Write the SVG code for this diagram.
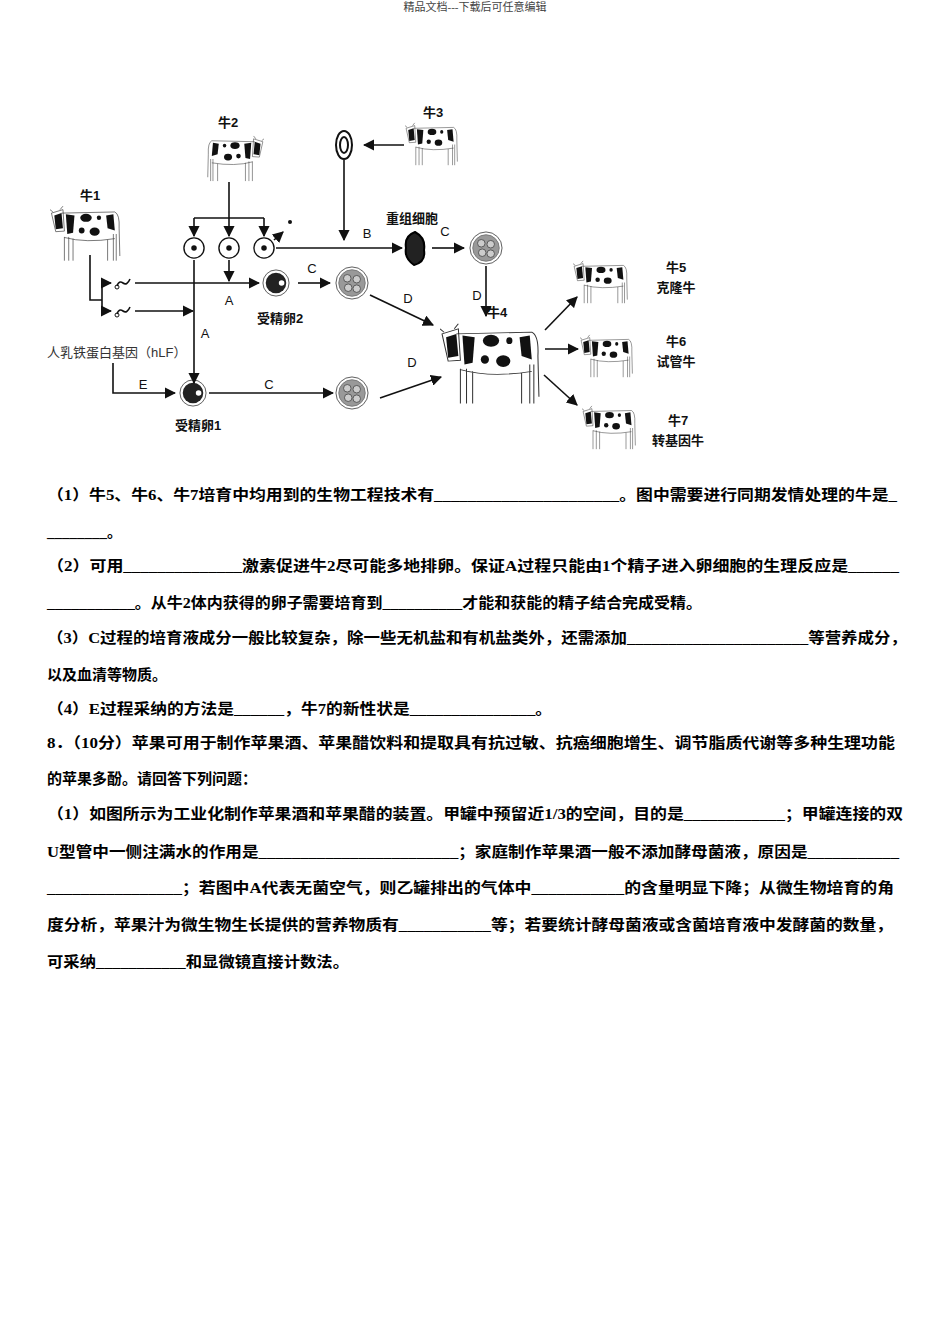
<svg xmlns="http://www.w3.org/2000/svg" width="950" height="1344" viewBox="0 0 950 1344">
<style>
.lbl{font-family:"Liberation Sans","Noto Sans CJK SC",sans-serif;font-size:13px;fill:#111;font-weight:bold}
.ltr{font-family:"Liberation Sans",sans-serif;font-size:13px;fill:#111}
.ln{stroke:#111;stroke-width:1.6;fill:none}
.body{font-family:"Liberation Serif","Noto Sans CJK SC",serif;font-size:15px;font-weight:bold;fill:#000}
</style>
<defs>
<marker id="ah" viewBox="0 0 10 10" refX="9" refY="5" markerWidth="7" markerHeight="7" orient="auto"><path d="M0,0 L10,5 L0,10 z" fill="#111"/></marker>
<symbol id="cow" viewBox="0 0 100 100" preserveAspectRatio="none">
<path d="M16,14 L90,12 Q97,16 96,40 L97,88 M92,50 L92,96 M88,50 L88,96 M20,55 L20,96 M26,55 L26,96 M32,58 L32,96 M80,60 L80,96 M20,56 Q50,66 90,58 M2,14 L18,8 L20,45 L8,46 Z M14,8 L18,2 M4,12 L0,8" fill="none" stroke="#333" stroke-width="1"/>
<path d="M6,18 L16,14 L18,40 L8,42 Z" fill="#111"/><path d="M22,16 L34,18 L32,48 L24,50 Z" fill="#111"/><ellipse cx="50" cy="22" rx="8" ry="7" fill="#111"/><ellipse cx="62" cy="46" rx="7" ry="7" fill="#111"/><path d="M78,18 L88,16 L90,44 L80,40 Z" fill="#111"/><ellipse cx="68" cy="22" rx="3" ry="4" fill="#111"/><ellipse cx="44" cy="44" rx="4" ry="5" fill="#111"/>
</symbol>
<symbol id="egg" viewBox="-12 -12 24 24"><circle r="11" fill="#fff" stroke="#111" stroke-width="1.5"/><circle r="3" fill="#111"/></symbol>
<symbol id="zyg" viewBox="-15 -15 30 30"><circle r="14" fill="#fff" stroke="#555"/><circle r="11" fill="#222"/><circle cx="6" cy="0" r="3" fill="#fff"/></symbol>
<symbol id="emb" viewBox="-18 -18 36 36"><circle r="17" fill="#fff" stroke="#555"/><circle r="14" fill="#999" stroke="#777"/><circle cx="-5" cy="-5" r="4" fill="#ccc" stroke="#555"/><circle cx="5" cy="-4" r="4" fill="#ccc" stroke="#555"/><circle cx="-4" cy="5" r="4" fill="#ccc" stroke="#555"/><circle cx="5" cy="6" r="4" fill="#ccc" stroke="#555"/></symbol>
</defs>
<rect width="950" height="1344" fill="#fff"/>
<text x="475" y="11" text-anchor="middle" font-family="Liberation Serif,Noto Sans CJK SC,serif" font-size="11" fill="#444">精品文档---下载后可任意编辑</text>

<g id="cow1"><use href="#cow" x="50" y="205" width="72" height="58"/><text class="lbl" x="90" y="200" text-anchor="middle">牛1</text></g>
<g id="cow2"><use href="#cow" transform="translate(264,135) scale(-1,1)" width="58" height="48"/><text class="lbl" x="228" y="127" text-anchor="middle">牛2</text></g>
<g id="cow3"><use href="#cow" x="405" y="122" width="54" height="45"/><text class="lbl" x="433" y="117" text-anchor="middle">牛3</text></g>
<g id="cow4"><use href="#cow" x="440" y="322" width="102" height="85"/><text class="lbl" x="497" y="317" text-anchor="middle">牛4</text></g>
<g id="cow5"><use href="#cow" x="573" y="260" width="56" height="45"/><text class="lbl" x="676" y="272" text-anchor="middle">牛5</text><text class="lbl" x="676" y="292" text-anchor="middle">克隆牛</text></g>
<g id="cow6"><use href="#cow" x="580" y="334" width="54" height="45"/><text class="lbl" x="676" y="346" text-anchor="middle">牛6</text><text class="lbl" x="676" y="366" text-anchor="middle">试管牛</text></g>
<g id="cow7"><use href="#cow" x="582" y="405" width="55" height="46"/><text class="lbl" x="678" y="425" text-anchor="middle">牛7</text><text class="lbl" x="678" y="445" text-anchor="middle">转基因牛</text></g>

<g id="donor"><ellipse cx="344" cy="145" rx="8" ry="14" fill="none" stroke="#111" stroke-width="2"/><ellipse cx="344" cy="145" rx="4" ry="8" fill="none" stroke="#111" stroke-width="2"/></g>
<g id="eggs"><use href="#egg" x="183" y="237" width="22" height="22"/><use href="#egg" x="218" y="237" width="22" height="22"/><use href="#egg" x="253" y="237" width="22" height="22"/><circle cx="290" cy="222" r="2" fill="#111"/></g>
<g id="recomb"><path d="M415,232 Q426,238 424,250 Q426,262 414,265 Q404,258 406,248 Q404,236 415,232 Z" fill="#222" stroke="#000" stroke-width="2"/><text class="lbl" x="412" y="223" text-anchor="middle">重组细胞</text></g>
<g id="emb1"><use href="#emb" x="469" y="231" width="34" height="34"/></g>
<g id="sperm"><path d="M117,286 q2,-6 6,-3 q4,3 7,-4 M117,314 q2,-6 6,-3 q4,3 7,-4" class="ln" stroke-width="1.2"/><circle cx="117" cy="287" r="2" fill="none" stroke="#111"/><circle cx="117" cy="315" r="2" fill="none" stroke="#111"/></g>
<g id="zyg2"><use href="#zyg" x="262" y="269" width="28" height="28"/><text class="lbl" x="280" y="323" text-anchor="middle">受精卵2</text></g>
<g id="emb2"><use href="#emb" x="335" y="266" width="34" height="34"/></g>
<g id="zyg1"><use href="#zyg" x="179" y="379" width="28" height="28"/><text class="lbl" x="198" y="430" text-anchor="middle">受精卵1</text></g>
<g id="emb3"><use href="#emb" x="335" y="376" width="34" height="34"/></g>
<g id="hlf"><text x="47" y="357" font-family="Liberation Sans,Noto Sans CJK SC,sans-serif" font-size="13" fill="#333">人乳铁蛋白基因（hLF）</text></g>

<g id="connectors" class="ln">
<path d="M229,182 V236" marker-end="url(#ah)"/>
<path d="M194,218 H264"/>
<path d="M194,218 V236" marker-end="url(#ah)"/><path d="M264,218 V236" marker-end="url(#ah)"/>
<path d="M274,240 L283,232" marker-end="url(#ah)"/>
<path d="M276,248 H402" marker-end="url(#ah)"/>
<path d="M344,160 V240" marker-end="url(#ah)"/>
<path d="M404,145 H364" marker-end="url(#ah)"/>
<path d="M432,248 H464" marker-end="url(#ah)"/>
<path d="M486,266 V316" marker-end="url(#ah)"/>
<path d="M90,255 V300 H102 M102,283 V311"/>
<path d="M102,283 H111" marker-end="url(#ah)"/><path d="M102,311 H111" marker-end="url(#ah)"/>
<path d="M135,283 H259" marker-end="url(#ah)"/>
<path d="M229,260 V281" marker-end="url(#ah)"/>
<path d="M135,311 H193" marker-end="url(#ah)"/>
<path d="M194,260 V383" marker-end="url(#ah)"/>
<path d="M298,283 H330" marker-end="url(#ah)"/>
<path d="M370,295 L433,325" marker-end="url(#ah)"/>
<path d="M113,363 V393 H175" marker-end="url(#ah)"/>
<path d="M209,393 H333" marker-end="url(#ah)"/>
<path d="M380,398 L441,377" marker-end="url(#ah)"/>
<path d="M545,330 L577,297" marker-end="url(#ah)"/>
<path d="M545,349 L578,349" marker-end="url(#ah)"/>
<path d="M544,375 L577,405" marker-end="url(#ah)"/>
</g>
<g id="letters" class="ltr">
<text x="367" y="238" text-anchor="middle">B</text><text x="445" y="236" text-anchor="middle">C</text><text x="477" y="300" text-anchor="middle">D</text>
<text x="229" y="305" text-anchor="middle">A</text><text x="205" y="338" text-anchor="middle">A</text><text x="312" y="273" text-anchor="middle">C</text>
<text x="408" y="303" text-anchor="middle">D</text><text x="143" y="389" text-anchor="middle">E</text><text x="269" y="389" text-anchor="middle">C</text><text x="412" y="367" text-anchor="middle">D</text>
</g>

<g id="text" class="body">
<text x="47" y="500" textLength="850" lengthAdjust="spacingAndGlyphs">（1）牛5、牛6、牛7培育中均用到的生物工程技术有______________________。图中需要进行同期发情处理的牛是_</text>
<text x="47" y="537">________。</text>
<text x="47" y="571" textLength="852" lengthAdjust="spacingAndGlyphs">（2）可用______________激素促进牛2尽可能多地排卵。保证A过程只能由1个精子进入卵细胞的生理反应是______</text>
<text x="47" y="608" textLength="655" lengthAdjust="spacingAndGlyphs">___________。从牛2体内获得的卵子需要培育到__________才能和获能的精子结合完成受精。</text>
<text x="47" y="643" textLength="860" lengthAdjust="spacingAndGlyphs">（3）C过程的培育液成分一般比较复杂，除一些无机盐和有机盐类外，还需添加______________________等营养成分，</text>
<text x="47" y="680">以及血清等物质。</text>
<text x="47" y="714" textLength="505" lengthAdjust="spacingAndGlyphs">（4）E过程采纳的方法是______，牛7的新性状是_______________。</text>
<text x="47" y="748" textLength="848" lengthAdjust="spacingAndGlyphs">8．（10分）苹果可用于制作苹果酒、苹果醋饮料和提取具有抗过敏、抗癌细胞增生、调节脂质代谢等多种生理功能</text>
<text x="47" y="784">的苹果多酚。请回答下列问题：</text>
<text x="47" y="819" textLength="856" lengthAdjust="spacingAndGlyphs">（1）如图所示为工业化制作苹果酒和苹果醋的装置。甲罐中预留近1/3的空间，目的是____________；甲罐连接的双</text>
<text x="47" y="857" textLength="852" lengthAdjust="spacingAndGlyphs">U型管中一侧注满水的作用是________________________；家庭制作苹果酒一般不添加酵母菌液，原因是___________</text>
<text x="47" y="893" textLength="847" lengthAdjust="spacingAndGlyphs">________________；若图中A代表无菌空气，则乙罐排出的气体中___________的含量明显下降；从微生物培育的角</text>
<text x="47" y="930" textLength="846" lengthAdjust="spacingAndGlyphs">度分析，苹果汁为微生物生长提供的营养物质有___________等；若要统计酵母菌液或含菌培育液中发酵菌的数量，</text>
<text x="47" y="967" textLength="302" lengthAdjust="spacingAndGlyphs">可采纳___________和显微镜直接计数法。</text>
</g>
</svg>
